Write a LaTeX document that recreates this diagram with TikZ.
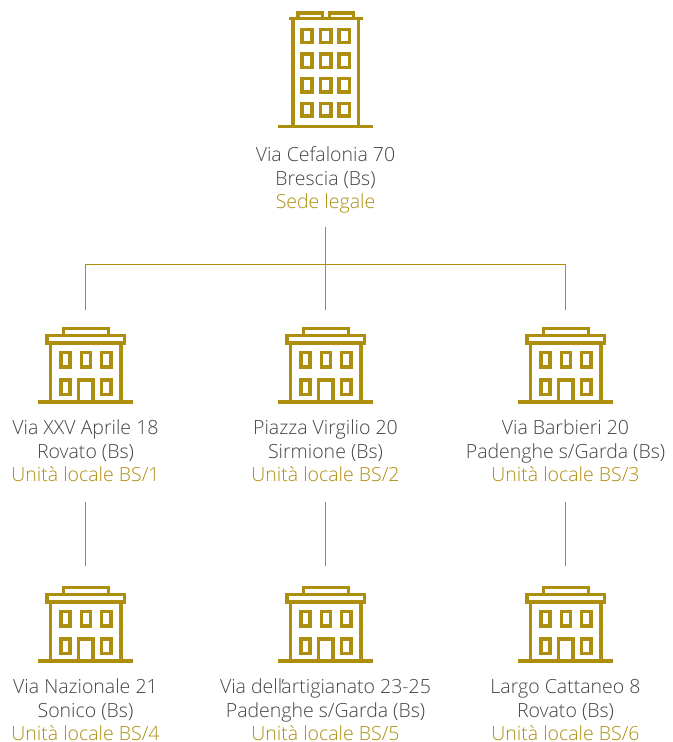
\documentclass[tikz,border=0pt]{standalone}
\usepackage{fontspec}
\setmainfont{Open Sans Light}
\definecolor{gold}{HTML}{AD8E0F}
\definecolor{ink}{HTML}{444444}
\tikzset{
  bline/.style={draw=gold,line width=3.4bp,fill=none},
  thin link/.style={draw=gold,line width=0.8bp},
  caption/.style={align=center,text=ink,inner sep=0pt,font=\fontsize{19.5bp}{23.5bp}\selectfont,anchor=north},
  pics/lowbuilding/.style={code={
   \begin{scope}[yscale=-1]
    \draw[bline] (-35.2,0)--(-35.2,-59) (35.5,0)--(35.5,-59);
    \draw[bline] (-47.5,0)--(47.8,0);
    \draw[bline] (-38.5,-66.3)rectangle(38.8,-59);
    \draw[bline] (-22,-66.3)--(-22,-73.3)--(23,-73.3)--(23,-66.3);
    \foreach \xl/\xr in {-24.5/-15.5,-4/5,16/25.5}{
      \draw[bline] (\xl,-49.5)rectangle(\xr,-35);
    }
    \draw[bline] (-24.5,-22)rectangle(-15.5,-7.5);
    \draw[bline] (16,-22)rectangle(25.5,-7.5);
    \draw[bline] (-7,0)--(-7,-22)--(7.5,-22)--(7.5,0);
   \end{scope}
  }},
  pics/tallbuilding/.style={code={
   \begin{scope}[yscale=-1]
    \draw[bline] (-32.5,0)--(-32.5,-108) (33,0)--(33,-108);
    \draw[bline] (-47.2,0)--(47.8,0);
    \draw[bline] (-36.5,-108)--(37.2,-108);
    \draw[bline] (-27.5,-108)--(-27.5,-113.5)--(-2.8,-113.5)--(-2.8,-108);
    \draw[bline] (4.2,-108)--(4.2,-113.5)--(28.2,-113.5)--(28.2,-108);
    \foreach \yt/\yb in {-97.4/-84,-72.8/-59.2,-48/-34.6,-23.4/-10.6}{
      \foreach \xl/\xr in {-23.5/-13.5,-5.3/5.3,13.5/24}{
        \draw[bline] (\xl,\yt)rectangle(\xr,\yb);
      }
    }
   \end{scope}
  }}
}
\newcommand{\addr}[3]{\vphantom{l}#1\\#2\\\textcolor{gold}{#3}}
\begin{document}
\begin{tikzpicture}[x=1bp,y=1bp]
\useasboundingbox (0,0) rectangle (673,742);
% buildings
\pic at (325.5,615.3) {tallbuilding};
\pic at (85.5,340) {lowbuilding};
\pic at (325.5,340) {lowbuilding};
\pic at (565.5,340) {lowbuilding};
\pic at (85.5,81) {lowbuilding};
\pic at (325.5,81) {lowbuilding};
\pic at (565.5,81) {lowbuilding};
% captions
\node[caption] (hq) at (325.5,595.5) {\addr{Via Cefalonia 70}{Brescia (Bs)}{Sede legale}};
\node[caption] (a1) at (85.5,322.5) {\addr{Via XXV Aprile 18}{Rovato (Bs)}{Unità locale BS/1}};
\node[caption] (a2) at (325.5,322.5) {\addr{Piazza Virgilio 20}{Sirmione (Bs)}{Unità locale BS/2}};
\node[caption] (a3) at (565.5,322.5) {\addr{Via Barbieri 20}{Padenghe s/Garda (Bs)}{Unità locale BS/3}};
\node[caption] (b1) at (85.5,63.5) {\addr{Via Nazionale 21}{Sonico (Bs)}{Unità locale BS/4}};
\node[caption] (b2) at (325.5,63.5) {\addr{Via dell\kern-0.8bp'\kern-2.8bp artigianato 23-25}{Padenghe s/Garda (Bs)}{Unità locale BS/5}};
\node[caption] (b3) at (565.5,63.5) {\addr{Largo Cattaneo 8}{Rovato (Bs)}{Unità locale BS/6}};
% connector ends
\coordinate (hqs) at (325.5,515);
\coordinate (bus) at (325.5,478);
\coordinate (busl) at (85.5,478);
\coordinate (busr) at (565.5,478);
\coordinate (t1) at (85.5,432);
\coordinate (t2) at (325.5,432);
\coordinate (t3) at (565.5,432);
\coordinate (m1) at (85.5,240);
\coordinate (m2) at (325.5,240);
\coordinate (m3) at (565.5,240);
\coordinate (n1) at (85.5,176);
\coordinate (n2) at (325.5,176);
\coordinate (n3) at (565.5,176);
\draw[thin link] (hqs)--(bus);
\draw[thin link] (busl)--(busr);
\draw[thin link] (busl)--(t1);
\draw[thin link] (bus)--(t2);
\draw[thin link] (busr)--(t3);
\draw[thin link] (m1)--(n1);
\draw[thin link] (m2)--(n2);
\draw[thin link] (m3)--(n3);
\end{tikzpicture}
\end{document}
